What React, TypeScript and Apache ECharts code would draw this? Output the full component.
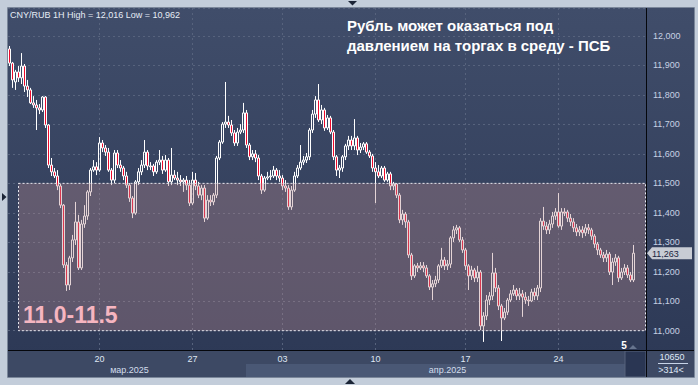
import { useEffect, useRef } from "react";
import * as echarts from "echarts";

const FONT = "'Liberation Sans', Arial, Helvetica, sans-serif";

// Candles: [open, close, low, high]
const candlesA = [
  [11.956, 11.908, 11.898, 11.966], [11.908, 11.851, 11.824, 11.912], [11.844, 11.878, 11.817, 11.885],
  [11.878, 11.858, 11.844, 11.898], [11.858, 11.898, 11.837, 11.942], [11.898, 11.830, 11.810, 11.905],
  [11.830, 11.817, 11.793, 11.851], [11.817, 11.773, 11.769, 11.824], [11.773, 11.766, 11.756, 11.796],
  [11.766, 11.756, 11.681, 11.783], [11.756, 11.749, 11.735, 11.769], [11.749, 11.793, 11.742, 11.796],
  [11.793, 11.698, 11.688, 11.796], [11.698, 11.562, 11.552, 11.701], [11.562, 11.539, 11.525, 11.586],
  [11.539, 11.525, 11.518, 11.552], [11.525, 11.491, 11.477, 11.545], [11.491, 11.426, 11.416, 11.498],
  [11.426, 11.223, 11.213, 11.430], [11.223, 11.155, 11.135, 11.233], [11.155, 11.247, 11.138, 11.254],
  [11.247, 11.308, 11.233, 11.325], [11.308, 11.369, 11.291, 11.437], [11.369, 11.213, 11.206, 11.393],
  [11.213, 11.362, 11.206, 11.376], [11.362, 11.389, 11.349, 11.426], [11.389, 11.471, 11.376, 11.477],
  [11.471, 11.545, 11.457, 11.552], [11.545, 11.556, 11.539, 11.579], [11.556, 11.545, 11.528, 11.572],
];
const candlesB = [
  [11.545, 11.637, 11.539, 11.657], [11.637, 11.620, 11.606, 11.647], [11.620, 11.606, 11.593, 11.630],
  [11.606, 11.545, 11.539, 11.620], [11.545, 11.511, 11.494, 11.552], [11.511, 11.603, 11.501, 11.613],
  [11.603, 11.562, 11.552, 11.613], [11.562, 11.552, 11.539, 11.579], [11.552, 11.525, 11.511, 11.559],
  [11.525, 11.494, 11.484, 11.539], [11.494, 11.450, 11.437, 11.501], [11.450, 11.399, 11.382, 11.457],
  [11.399, 11.505, 11.393, 11.511], [11.505, 11.539, 11.494, 11.552], [11.539, 11.562, 11.528, 11.579],
  [11.562, 11.606, 11.552, 11.647], [11.606, 11.559, 11.545, 11.613], [11.559, 11.556, 11.545, 11.572],
  [11.559, 11.539, 11.525, 11.566], [11.539, 11.572, 11.532, 11.579], [11.572, 11.579, 11.562, 11.613],
  [11.579, 11.545, 11.532, 11.593], [11.545, 11.579, 11.539, 11.596], [11.579, 11.505, 11.491, 11.586],
  [11.505, 11.528, 11.494, 11.620], [11.528, 11.518, 11.511, 11.545], [11.518, 11.511, 11.494, 11.539],
  [11.511, 11.505, 11.491, 11.528], [11.505, 11.511, 11.471, 11.518], [11.511, 11.494, 11.477, 11.525],
  [11.494, 11.433, 11.423, 11.511],
];
const candlesC = [
  [11.433, 11.511, 11.426, 11.539], [11.511, 11.491, 11.477, 11.535], [11.491, 11.460, 11.450, 11.505],
  [11.460, 11.484, 11.443, 11.494], [11.484, 11.382, 11.369, 11.494], [11.382, 11.443, 11.376, 11.460],
  [11.443, 11.437, 11.423, 11.460], [11.437, 11.460, 11.426, 11.467], [11.460, 11.586, 11.450, 11.593],
  [11.586, 11.640, 11.579, 11.647], [11.640, 11.701, 11.634, 11.708], [11.701, 11.708, 11.688, 11.844],
  [11.708, 11.698, 11.688, 11.729], [11.698, 11.671, 11.661, 11.715], [11.671, 11.637, 11.627, 11.681],
  [11.637, 11.674, 11.627, 11.688], [11.674, 11.681, 11.667, 11.701], [11.681, 11.739, 11.671, 11.773],
  [11.739, 11.630, 11.620, 11.749], [11.630, 11.590, 11.579, 11.637], [11.590, 11.600, 11.579, 11.613],
  [11.600, 11.586, 11.572, 11.613], [11.586, 11.525, 11.511, 11.596], [11.525, 11.477, 11.464, 11.532],
  [11.477, 11.518, 11.471, 11.525], [11.518, 11.522, 11.511, 11.539], [11.522, 11.525, 11.511, 11.545],
  [11.525, 11.545, 11.518, 11.559], [11.545, 11.525, 11.511, 11.552], [11.525, 11.518, 11.505, 11.545],
  [11.518, 11.491, 11.477, 11.528],
];
const candlesD = [
  [11.491, 11.484, 11.471, 11.511], [11.484, 11.420, 11.410, 11.494], [11.420, 11.477, 11.410, 11.491],
  [11.477, 11.525, 11.471, 11.539], [11.525, 11.552, 11.518, 11.562], [11.552, 11.572, 11.545, 11.630],
  [11.572, 11.579, 11.562, 11.593], [11.579, 11.590, 11.569, 11.603], [11.590, 11.681, 11.579, 11.688],
  [11.681, 11.735, 11.671, 11.749], [11.735, 11.783, 11.722, 11.796], [11.783, 11.715, 11.708, 11.837],
  [11.715, 11.749, 11.701, 11.766], [11.749, 11.688, 11.678, 11.756], [11.688, 11.722, 11.681, 11.732],
  [11.722, 11.674, 11.667, 11.729], [11.674, 11.590, 11.579, 11.681], [11.590, 11.545, 11.525, 11.596],
  [11.545, 11.552, 11.518, 11.562], [11.552, 11.590, 11.539, 11.596], [11.590, 11.627, 11.579, 11.634],
  [11.627, 11.647, 11.613, 11.661], [11.647, 11.627, 11.613, 11.661], [11.627, 11.654, 11.613, 11.718],
  [11.654, 11.613, 11.596, 11.661], [11.613, 11.623, 11.603, 11.637], [11.623, 11.634, 11.613, 11.640],
  [11.634, 11.606, 11.600, 11.640], [11.606, 11.593, 11.586, 11.613], [11.593, 11.552, 11.539, 11.600],
  [11.552, 11.539, 11.433, 11.572],
];
const candlesE = [
  [11.539, 11.525, 11.518, 11.562], [11.525, 11.552, 11.518, 11.559], [11.552, 11.511, 11.505, 11.559],
  [11.511, 11.532, 11.505, 11.539], [11.532, 11.491, 11.477, 11.539], [11.491, 11.498, 11.477, 11.505],
  [11.498, 11.460, 11.450, 11.501], [11.460, 11.376, 11.365, 11.467], [11.376, 11.396, 11.359, 11.410],
  [11.396, 11.369, 11.349, 11.403], [11.369, 11.257, 11.247, 11.376], [11.257, 11.186, 11.172, 11.264],
  [11.186, 11.220, 11.179, 11.226], [11.220, 11.213, 11.199, 11.230], [11.213, 11.220, 11.206, 11.233],
  [11.220, 11.213, 11.199, 11.233], [11.213, 11.186, 11.179, 11.223], [11.186, 11.148, 11.138, 11.192],
  [11.148, 11.159, 11.104, 11.172], [11.159, 11.172, 11.148, 11.186], [11.172, 11.220, 11.162, 11.226],
  [11.220, 11.240, 11.213, 11.281], [11.240, 11.220, 11.206, 11.250], [11.220, 11.226, 11.206, 11.240],
  [11.226, 11.315, 11.213, 11.321], [11.315, 11.342, 11.301, 11.355], [11.342, 11.349, 11.328, 11.359],
  [11.349, 11.308, 11.301, 11.355], [11.308, 11.274, 11.264, 11.318], [11.274, 11.220, 11.206, 11.281],
];
const candlesF = [
  [11.220, 11.186, 11.138, 11.226], [11.186, 11.206, 11.172, 11.220], [11.206, 11.179, 11.165, 11.213],
  [11.179, 11.199, 11.165, 11.220], [11.199, 11.016, 11.002, 11.206], [11.016, 11.050, 10.962, 11.063],
  [11.050, 11.104, 11.036, 11.121], [11.104, 11.118, 11.087, 11.131], [11.118, 11.196, 11.104, 11.264],
  [11.196, 11.145, 11.131, 11.213], [11.145, 11.084, 11.070, 11.155], [11.084, 11.043, 10.965, 11.091],
  [11.043, 11.063, 11.036, 11.077], [11.063, 11.104, 11.053, 11.111], [11.104, 11.125, 11.097, 11.138],
  [11.125, 11.138, 11.118, 11.155], [11.138, 11.118, 11.104, 11.145], [11.118, 11.125, 11.104, 11.145],
  [11.125, 11.114, 11.047, 11.138], [11.114, 11.104, 11.091, 11.131], [11.104, 11.101, 11.084, 11.118],
  [11.101, 11.131, 11.097, 11.142], [11.131, 11.118, 11.104, 11.145], [11.118, 11.145, 11.104, 11.155],
  [11.145, 11.372, 11.131, 11.382], [11.372, 11.355, 11.342, 11.420], [11.355, 11.342, 11.328, 11.369],
  [11.342, 11.362, 11.328, 11.376], [11.362, 11.389, 11.349, 11.403], [11.389, 11.403, 11.376, 11.416],
];
const candlesG = [
  [11.403, 11.355, 11.349, 11.467], [11.355, 11.403, 11.342, 11.416], [11.403, 11.399, 11.389, 11.416],
  [11.403, 11.382, 11.369, 11.410], [11.382, 11.369, 11.355, 11.396], [11.369, 11.349, 11.335, 11.382],
  [11.349, 11.335, 11.321, 11.362], [11.335, 11.342, 11.321, 11.355], [11.342, 11.332, 11.315, 11.355],
  [11.332, 11.349, 11.321, 11.362], [11.349, 11.342, 11.328, 11.362], [11.342, 11.321, 11.308, 11.349],
  [11.321, 11.294, 11.281, 11.328], [11.294, 11.274, 11.257, 11.301], [11.274, 11.257, 11.247, 11.281],
  [11.257, 11.247, 11.233, 11.267], [11.247, 11.260, 11.233, 11.274], [11.260, 11.199, 11.189, 11.267],
  [11.199, 11.233, 11.155, 11.247], [11.233, 11.247, 11.220, 11.260], [11.247, 11.179, 11.165, 11.254],
  [11.179, 11.199, 11.172, 11.213], [11.199, 11.213, 11.189, 11.226], [11.213, 11.189, 11.179, 11.223],
  [11.189, 11.172, 11.165, 11.199], [11.172, 11.263, 11.165, 11.291],
];

const slotCount = 213;
const weekTickIndex = [30, 61, 91, 122, 152, 183];
const weekTickLabels = ["20", "27", "03", "10", "17", "24"];
const monthTickIndex = [40, 146];
const monthTickLabels = ["мар.2025", "апр.2025"];
const bandLow = 11.0;
const bandHigh = 11.5;
const bandStartIndex = 3;
const bandEndIndex = 212;
const bandLabel = "11.0-11.5";
const yMin = 10.9345;
const yMax = 12.095;
const headerText = "CNY/RUB 1H High = 12,016 Low = 10,962";
const titleLines = ["Рубль может оказаться под", "давлением на торгах в среду - ПСБ"];
const volumeTexts = ["10650", ">314<"];
const scrollMark = "5";

export default function App() {
  const ref = useRef<HTMLDivElement>(null);

  useEffect(() => {
    const el = ref.current;
    if (!el) return;
    const chart = echarts.init(el, null, { renderer: "svg" });
    const candles = [...candlesA, ...candlesB, ...candlesC, ...candlesD, ...candlesE, ...candlesF, ...candlesG];
    const cats = Array.from({ length: slotCount }, (_, i) => String(i));
    const weekAt = new Map(weekTickIndex.map((t, k) => [t, weekTickLabels[k]]));
    const monthAt = new Map(monthTickIndex.map((t, k) => [t, monthTickLabels[k]]));
    const fmt = (v: number) => v.toFixed(3).replace(".", ",");

    const textStyle = (text: string, x: number, y: number, fill: string, font: string, align = "center") => ({
      type: "text",
      x,
      y,
      silent: true,
      z: 60,
      style: { text, fill, font, align, verticalAlign: "middle" },
    });

    const baseGraphic: any[] = [
      {
        type: "rect", silent: true, z: -10,
        shape: { x: 8, y: 8, width: 686, height: 369 },
        style: {
          fill: new echarts.graphic.LinearGradient(0, 0, 0, 1, [
            { offset: 0, color: "#404d6a" },
            { offset: 1, color: "#2c3855" },
          ]),
        },
      },
      { type: "rect", silent: true, z: -9, shape: { x: 8, y: 351, width: 638, height: 26 }, style: { fill: "#3d4964" } },
      { type: "rect", silent: true, z: -9, shape: { x: 647, y: 351, width: 47, height: 26 }, style: { fill: "#3d4964" } },
      { type: "rect", silent: true, z: -8, shape: { x: 246, y: 364, width: 379, height: 13 }, style: { fill: "#4a5875" } },
      { type: "rect", silent: true, z: -8, shape: { x: 625, y: 351, width: 21, height: 26 }, style: { fill: "#2a3653", stroke: "#56637c", lineWidth: 1 } },
      { type: "rect", silent: true, z: 50, shape: { x: 7.5, y: 7.5, width: 687, height: 370 }, style: { fill: "none", stroke: "#7b879a", lineWidth: 1 } },
      { type: "line", silent: true, z: 51, shape: { x1: 646.5, y1: 8, x2: 646.5, y2: 377 }, style: { stroke: "#05070c", lineWidth: 1 } },
      { type: "line", silent: true, z: 51, shape: { x1: 8, y1: 350.5, x2: 694, y2: 350.5 }, style: { stroke: "#05070c", lineWidth: 1 } },
      { type: "polygon", silent: true, z: 51, shape: { points: [[348, 1], [357, 1], [352.5, 5.5]] }, style: { fill: "#1b2436" } },
      { type: "polygon", silent: true, z: 51, shape: { points: [[345, 384], [355, 384], [350, 379]] }, style: { fill: "#1b2436" } },
      { type: "polygon", silent: true, z: 51, shape: { points: [[2, 193], [2, 201], [6.5, 197]] }, style: { fill: "#1b2436" } },
      { type: "polygon", silent: true, z: 51, shape: { points: [[629, 349], [637, 349], [633, 345]] }, style: { fill: "#66748e" } },
      textStyle(scrollMark, 624, 345, "#ffffff", `bold 10px ${FONT}`),
      textStyle(volumeTexts[0], 672, 357, "#dfe8f6", `9px ${FONT}`),
      textStyle(volumeTexts[1], 671, 370, "#dfe8f6", `9px ${FONT}`),
      { type: "line", silent: true, z: 51, shape: { x1: 658, y1: 363.5, x2: 688, y2: 363.5 }, style: { stroke: "#c7d4e8", lineWidth: 1 } },
    ];

    chart.setOption({
      animation: false,
      backgroundColor: "#c3cdda",
      title: [
        {
          text: headerText, left: 10, top: 10, padding: 0,
          textStyle: { fontSize: 9, fontWeight: "normal", color: "#e6ecf5", fontFamily: FONT },
        },
        {
          text: titleLines.join("\n"), left: 347, top: 15, padding: 0,
          textStyle: { fontSize: 15, fontWeight: "bold", color: "#ffffff", fontFamily: FONT, lineHeight: 20 },
        },
      ],
      grid: { left: 8, right: 51, top: 8, bottom: 35, containLabel: false },
      xAxis: [
        {
          type: "category",
          data: cats,
          boundaryGap: true,
          axisLine: { show: false },
          axisTick: { show: false },
          axisLabel: {
            interval: (i: number) => weekAt.has(i),
            formatter: (_v: string, i: number) => weekAt.get(i) ?? "",
            color: "#dfe7f3", fontSize: 9, fontFamily: FONT, margin: 4,
          },
          splitLine: {
            show: true,
            alignWithLabel: true,
            interval: (i: number) => weekAt.has(i),
            lineStyle: { color: "#57637d", type: [2, 3], width: 1 },
          },
        },
        {
          type: "category",
          data: cats,
          position: "bottom",
          offset: 11,
          boundaryGap: true,
          axisLine: { show: false },
          axisTick: { show: false },
          splitLine: { show: false },
          axisLabel: {
            interval: (i: number) => monthAt.has(i),
            formatter: (_v: string, i: number) => monthAt.get(i) ?? "",
            color: "#d3ddec", fontSize: 9, fontFamily: FONT, margin: 4,
          },
        },
      ],
      yAxis: {
        type: "value",
        position: "right",
        min: yMin,
        max: yMax,
        splitNumber: 12,
        axisLine: { show: false },
        axisTick: { show: false },
        axisLabel: {
          showMinLabel: false, showMaxLabel: false,
          formatter: (v: number) => fmt(v),
          color: "#c6d1e3", fontSize: 9, fontFamily: FONT, margin: 6,
        },
        splitLine: { show: true, lineStyle: { color: "#57637d", type: [2, 3], width: 1 } },
      },
      series: [
        {
          type: "candlestick",
          data: candles,
          z: 0.5,
          barWidth: 2,
          itemStyle: {
            color: "rgba(0,0,0,0)",
            color0: "#ee0a2c",
            borderColor: "#ffffff",
            borderColor0: "#ffffff",
            borderWidth: 1,
          },
        },
        {
          type: "line",
          data: [],
          silent: true,
          markArea: {
            silent: true,
            itemStyle: {
              color: "rgba(180,135,142,0.36)",
              borderColor: "#e9e9f0",
              borderWidth: 1,
              borderType: [2, 2],
            },
            label: {
              show: true,
              position: "insideBottomLeft",
              distance: 5,
              formatter: bandLabel,
              color: "#f6b5c0",
              fontSize: 23,
              fontWeight: "bold",
              fontFamily: FONT,
            },
            data: [[
              { xAxis: cats[bandStartIndex], yAxis: bandHigh },
              { xAxis: cats[bandEndIndex], yAxis: bandLow },
            ]],
          },
        },
      ],
      graphic: baseGraphic,
    });

    const lastClose = candles[candles.length - 1][1];
    const ty = chart.convertToPixel({ yAxisIndex: 0 }, lastClose) as number;
    chart.setOption({
      graphic: [
        ...baseGraphic,
        {
          type: "polygon", silent: true, z: 55,
          shape: { points: [[647, ty], [652, ty - 6], [692, ty - 6], [692, ty + 6], [652, ty + 6]] },
          style: { fill: "#c8ccd4" },
        },
        textStyle(fmt(lastClose), 652, ty + 0.5, "#1a2540", `9px ${FONT}`, "left"),
      ],
    });

    return () => chart.dispose();
  }, []);

  return <div ref={ref} style={{ position: "absolute", left: 0, top: 0, width: 698, height: 385 }} />;
}
